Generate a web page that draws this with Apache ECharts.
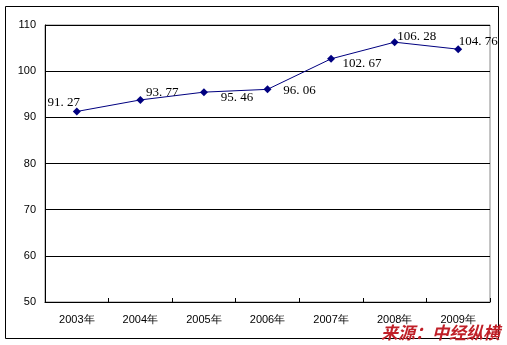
<!DOCTYPE html>
<html><head><meta charset="utf-8">
<script src="https://cdn.jsdelivr.net/npm/echarts@6/dist/echarts.min.js"></script>
<style>html,body{margin:0;padding:0;background:#fff}#c{width:507px;height:345px}</style>
</head><body><div id="c"></div>
<script>
const categories = ['2003年','2004年','2005年','2006年','2007年','2008年','2009年'];
const values = [91.27, 93.77, 95.46, 96.06, 102.67, 106.28, 104.76];
const yTicks = [50, 60, 70, 80, 90, 100, 110];
const sourceText = '来源：中经纵横';
const labelOffsets = [[-13,-9],[22,-7],[33,5],[32,1],[31,5],[22,-6],[20,-8]];

const chart = echarts.init(document.getElementById('c'));
chart.setOption({
  animation: false,
  backgroundColor: '#fff',
  grid: { left: 45, right: 17, top: 25, bottom: 43, show: true, borderColor: '#888', borderWidth: 1, backgroundColor: 'transparent' },
  xAxis: {
    type: 'category', data: categories, boundaryGap: true,
    axisLine: { lineStyle: { color: '#000', width: 1 } },
    axisTick: { show: true, length: 4, inside: true, lineStyle: { color: '#000' } },
    axisLabel: { color: '#000', fontFamily: 'Liberation Sans', fontSize: 11, margin: 12 }
  },
  yAxis: {
    type: 'value', min: yTicks[0], max: yTicks[yTicks.length-1], interval: 10,
    axisLine: { show: true, lineStyle: { color: '#000', width: 1 } },
    axisTick: { show: false },
    axisLabel: { color: '#000', fontFamily: 'Liberation Sans', fontSize: 11, margin: 9 },
    splitLine: { show: true, lineStyle: { color: '#000', width: 1 } }
  },
  series: [{
    type: 'line',
    data: values.map((v, i) => ({ value: v, label: { offset: labelOffsets[i] } })),
    symbol: 'diamond', symbolSize: 8,
    itemStyle: { color: '#000080' },
    lineStyle: { color: '#000080', width: 1 },
    label: {
      show: true, position: 'inside', color: '#000',
      fontFamily: 'Liberation Serif', fontSize: 13,
      formatter: p => String(p.value.toFixed(2)).replace('.', '. ')
    }
  }],
  graphic: [
    { type: 'rect', shape: { x: 5.5, y: 6.5, width: 493, height: 332 }, style: { fill: 'none', stroke: '#000', lineWidth: 1 }, z: -1 },
    { type: 'text', right: 7, bottom: 4, style: { text: sourceText, fill: '#c02028', font: 'italic bold 17px "Noto Sans CJK SC"' } }
  ]
});
</script></body></html>
